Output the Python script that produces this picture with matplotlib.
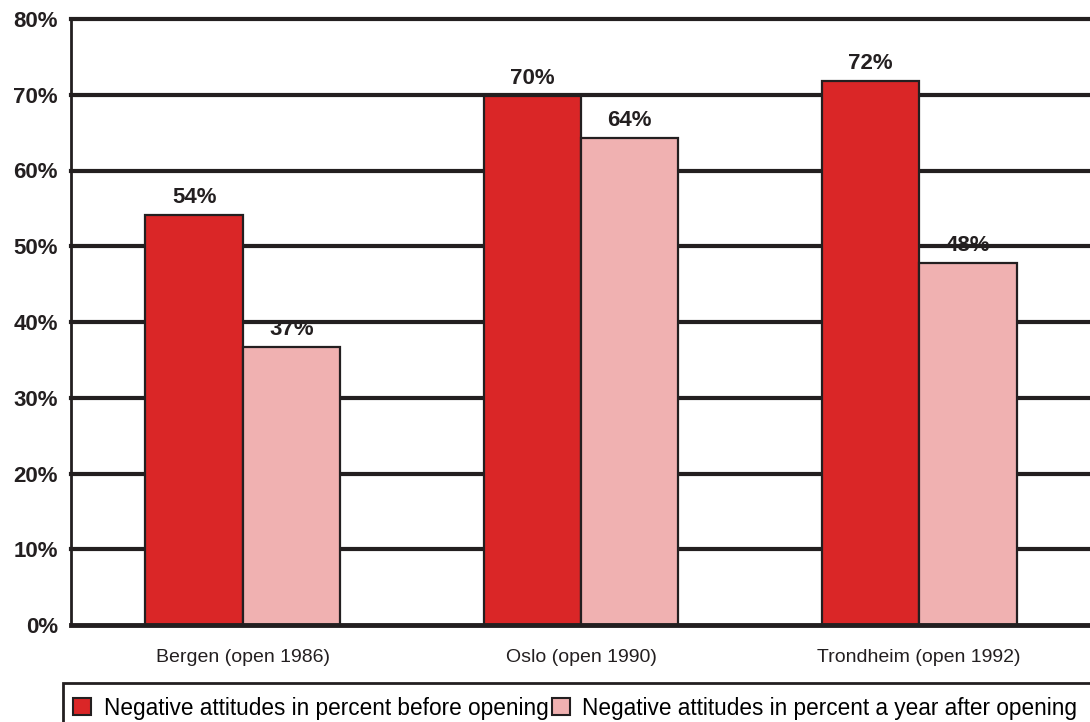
import matplotlib

matplotlib.use("Agg")
import matplotlib.pyplot as plt
from matplotlib.patches import Patch, Rectangle

plt.rcParams["font.family"] = ["Liberation Sans", "DejaVu Sans"]

cities = ["Bergen (open 1986)", "Oslo (open 1990)", "Trondheim (open 1992)"]
before = [54.1, 69.8, 71.8]
after = [36.7, 64.3, 47.8]
before_labels = ["54%", "70%", "72%"]
after_labels = ["37%", "64%", "48%"]
series_names = [
    "Negative attitudes in percent before opening",
    "Negative attitudes in percent a year after opening",
]
yticks = [0, 10, 20, 30, 40, 50, 60, 70, 80]

RED = "#DA2627"
PINK = "#F0B1B1"
DARK = "#231F20"

fig = plt.figure(figsize=(10.9, 7.22), dpi=100)
ax = fig.add_axes([71 / 1090, 97 / 722, 1019 / 1090, 606 / 722])

w = 0.288
x = list(range(len(cities)))
ax.bar([i - w / 2 for i in x], before, width=w, color=RED, edgecolor=DARK, linewidth=1.6, zorder=3)
ax.bar([i + w / 2 for i in x], after, width=w, color=PINK, edgecolor=DARK, linewidth=1.6, zorder=3)

# labels sit ~12px above the bar top, under the gridlines
for i in x:
    ax.text(i - w / 2, before[i] + 1.6, before_labels[i], ha="center", va="baseline",
            fontsize=16, fontweight="bold", color=DARK, zorder=2)
    ax.text(i + w / 2, after[i] + 1.6, after_labels[i], ha="center", va="baseline",
            fontsize=16, fontweight="bold", color=DARK, zorder=2)

ax.set_xlim(-0.508, 2.505)
ax.set_ylim(0, 80)
ax.set_yticks(yticks)
ax.set_yticklabels([f"{t}%" for t in yticks], fontsize=16, fontweight="bold", color=DARK)
ax.set_xticks(x)
ax.set_xticklabels(cities, fontsize=14, color=DARK)
ax.tick_params(axis="y", length=0, pad=9.5)
ax.tick_params(axis="x", length=0, pad=17.5)

for t in yticks[1:]:
    ax.axhline(t, color=DARK, linewidth=3, zorder=2.5, clip_on=False)

ax.spines["right"].set_visible(False)
ax.spines["top"].set_visible(False)
ax.spines["left"].set_color(DARK)
ax.spines["left"].set_linewidth(2)
ax.spines["bottom"].set_color(DARK)
ax.spines["bottom"].set_linewidth(3.5)
ax.spines["bottom"].set_zorder(4)

handles = [
    Patch(facecolor=RED, edgecolor=DARK, linewidth=1.5),
    Patch(facecolor=PINK, edgecolor=DARK, linewidth=1.5),
]
fig.legend(handles, series_names, loc="center left", bbox_to_anchor=(73 / 1090, 1 - 708 / 722),
           ncol=2, frameon=False, fontsize=16.3, handlelength=0.8, handleheight=0.8,
           handletextpad=0.55, columnspacing=0.15, borderaxespad=0, borderpad=0)
fig.patches.append(Rectangle((63 / 1090, -0.05), 1.1, 0.05 + 1 - 683 / 722, transform=fig.transFigure,
                             fill=False, edgecolor=DARK, linewidth=2))

fig.savefig("out.png", dpi=100)
